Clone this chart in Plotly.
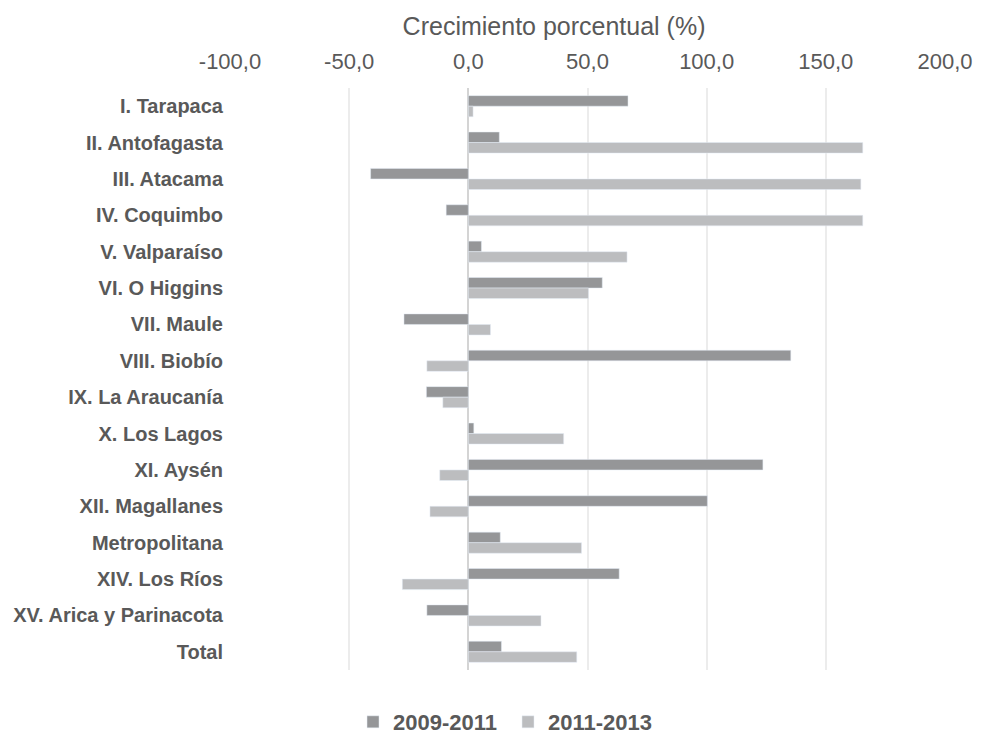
import plotly.graph_objects as go

regions = [
    "I. Tarapaca", "II. Antofagasta", "III. Atacama", "IV. Coquimbo",
    "V. Valparaíso", "VI. O Higgins", "VII. Maule", "VIII. Biobío",
    "IX. La Araucanía", "X. Los Lagos", "XI. Aysén", "XII. Magallanes",
    "Metropolitana", "XIV. Los Ríos", "XV. Arica y Parinacota", "Total",
]
growth_2009_2011 = [67.0, 13.0, -41.0, -9.3, 5.5, 56.2, -27.0, 135.3,
                    -17.6, 2.3, 123.6, 100.3, 13.4, 63.3, -17.4, 13.9]
growth_2011_2013 = [2.0, 165.5, 164.7, 165.5, 66.6, 50.4, 9.3, -17.4,
                    -10.7, 40.0, -12.0, -16.1, 47.5, -27.7, 30.5, 45.5]
series_names = ["2009-2011", "2011-2013"]
tick_values = [-100, -50, 0, 50, 100, 150, 200]
tick_labels = ["-100,0", "-50,0", "0,0", "50,0", "100,0", "150,0", "200,0"]

FONT = "Liberation Sans, Arial, sans-serif"
TXT = "#595959"

fig = go.Figure()
fig.add_trace(go.Bar(y=regions, x=growth_2009_2011, orientation="h",
                     name=series_names[0], marker=dict(color="#959698")))
fig.add_trace(go.Bar(y=regions, x=growth_2011_2013, orientation="h",
                     name=series_names[1], marker=dict(color="#bcbdbf")))

fig.update_layout(
    width=985, height=736,
    paper_bgcolor="white", plot_bgcolor="white",
    barmode="group", bargap=0.42, bargroupgap=0.0,
    margin=dict(l=230, r=33, t=88, b=66),
    font=dict(family=FONT, color=TXT),
    title=dict(text="Crecimiento porcentual (%)", xref="container", x=0.5625,
               xanchor="center", yref="container", y=0.965, yanchor="middle",
               font=dict(size=25, color=TXT, family=FONT)),
    legend=dict(orientation="h", xref="container", x=0.3584, xanchor="left",
                yref="container", y=0.019, yanchor="middle",
                entrywidth=110, entrywidthmode="pixels",
                font=dict(size=22, color=TXT, family=FONT, weight="bold"),
                traceorder="normal"),
    showlegend=True,
)
fig.update_xaxes(side="top", range=[-100, 200], tickvals=tick_values,
                 ticktext=tick_labels, showgrid=True, gridcolor="#ececec",
                 gridwidth=2, zeroline=True, zerolinecolor="#d4d4d4",
                 zerolinewidth=2, showline=False, ticks="",
                 ticklabelstandoff=14,
                 tickfont=dict(size=22, color=TXT, family=FONT))
fig.update_yaxes(categoryorder="array", categoryarray=regions,
                 autorange="reversed", showgrid=False, showline=False,
                 ticks="", ticklabelstandoff=6,
                 tickfont=dict(size=20, color=TXT, family=FONT, weight="bold"))

fig.write_html("out.html", config={"displayModeBar": False},
               post_script="document.body.style.margin='0';document.body.style.padding='0';")
